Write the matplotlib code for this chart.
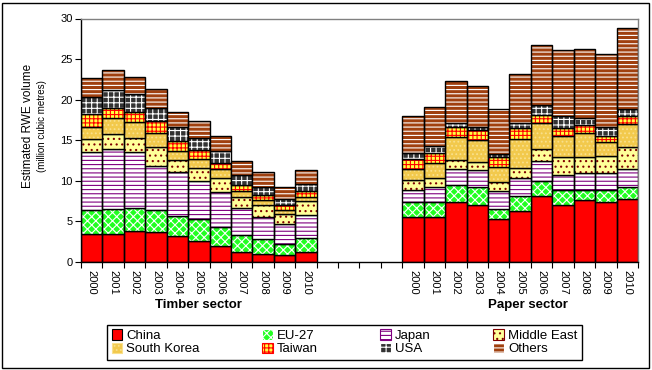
import matplotlib
matplotlib.use("Agg")
import matplotlib.pyplot as plt
import numpy as np
from matplotlib.patches import Patch, Rectangle

plt.rcParams["font.family"] = ["Liberation Sans", "DejaVu Sans"]
plt.rcParams["hatch.linewidth"] = 0.8

years = ["2000", "2001", "2002", "2003", "2004", "2005",
         "2006", "2007", "2008", "2009", "2010"]
regions = ["China", "EU-27", "Japan", "Middle East",
           "South Korea", "Taiwan", "USA", "Others"]

# million m3 RWE
timber = {
    "China":       [3.42, 3.42, 3.79, 3.66, 3.17, 2.55, 1.93, 1.19, 0.95, 0.82, 1.19],
    "EU-27":       [2.96, 3.08, 2.84, 2.72, 2.47, 2.72, 2.39, 2.10, 1.85, 1.40, 1.73],
    "Japan":       [7.16, 7.41, 6.91, 5.39, 5.39, 4.69, 4.28, 3.34, 2.76, 2.47, 2.84],
    "Middle East": [1.60, 1.85, 1.73, 2.39, 1.52, 1.60, 1.73, 1.39, 1.48, 1.24, 1.73],
    "South Korea": [1.49, 1.98, 1.97, 1.72, 1.11, 1.11, 1.15, 0.75, 0.61, 0.49, 0.53],
    "Taiwan":      [1.60, 1.19, 1.24, 1.49, 1.24, 1.12, 0.70, 0.70, 0.58, 0.58, 0.70],
    "USA":         [2.14, 2.26, 2.26, 1.60, 1.68, 1.44, 1.44, 1.23, 0.99, 0.74, 0.91],
    "Others":      [2.31, 2.47, 2.06, 2.35, 1.90, 2.14, 1.89, 1.73, 1.85, 1.48, 1.69],
}
paper = {
    "China":       [5.60, 5.60, 7.37, 7.00, 5.27, 6.34, 8.07, 7.00, 7.61, 7.37, 7.74],
    "EU-27":       [1.77, 1.77, 2.10, 2.22, 1.31, 1.81, 1.97, 1.93, 1.24, 1.48, 1.48],
    "Japan":       [1.48, 1.89, 1.97, 2.06, 2.14, 2.22, 2.39, 1.85, 2.10, 2.10, 2.26],
    "Middle East": [1.23, 1.11, 1.11, 0.98, 1.12, 1.19, 1.52, 2.14, 1.97, 2.10, 2.72],
    "South Korea": [1.36, 1.77, 2.84, 2.76, 1.89, 3.63, 3.17, 2.59, 2.96, 1.72, 2.75],
    "Taiwan":      [1.23, 1.32, 1.28, 1.24, 1.23, 1.27, 0.95, 0.95, 0.99, 0.74, 0.99],
    "USA":         [0.70, 0.86, 0.41, 0.37, 0.37, 0.62, 1.27, 1.56, 0.91, 1.12, 0.91],
    "Others":      [4.61, 4.77, 5.22, 5.06, 5.52, 6.09, 7.41, 8.11, 8.48, 9.01, 10.00],
}

# (face colour, hatch colour, hatch)
styles = {
    "China":       ("#FF0000", "black", None),
    "EU-27":       ("#22FF22", "white", "xxxx"),
    "Japan":       ("white", "#800080", "----"),
    "Middle East": ("#FFFF99", "#800000", "..."),
    "South Korea": ("#F2C94C", "#F9E08C", "...."),
    "Taiwan":      ("#FFFF40", "#FF0000", "++++"),
    "USA":         ("#333333", "white", "+++"),
    "Others":      ("#A0400F", "white", "----"),
}

gap = 4
x_timber = np.arange(len(years))
x_paper = np.arange(len(years)) + len(years) + gap
n_slots = 2 * len(years) + gap

fig = plt.figure(figsize=(6.52, 3.70), dpi=100)
ax = fig.add_axes([81 / 652, 1 - 262 / 370, 557 / 652, 243.5 / 370])

for xs, data in ((x_timber, timber), (x_paper, paper)):
    bottom = np.zeros(len(xs))
    for r in regions:
        vals = np.array(data[r])
        face, hcol, hatch = styles[r]
        ax.bar(xs, vals, bottom=bottom, width=1.0, color=face,
               edgecolor=hcol, hatch=hatch, linewidth=0)
        ax.bar(xs, vals, bottom=bottom, width=1.0, fill=False,
               edgecolor="black", linewidth=1.0)
        bottom += vals

ax.set_xlim(-0.5, n_slots - 0.5)
ax.set_ylim(0, 30)
ax.set_yticks(range(0, 31, 5))
ax.tick_params(axis="y", direction="out", length=4, labelsize=8, pad=2)

ax.set_xticks(np.arange(-0.5, n_slots, 1.0))
ax.set_xticklabels([])
ax.tick_params(axis="x", which="major", direction="out", length=4)
ax.set_xticks(np.concatenate([x_timber, x_paper]), minor=True)
ax.set_xticklabels(years + years, minor=True, rotation=-90, fontsize=8)
ax.tick_params(axis="x", which="minor", length=0, pad=6)

for s in ("left", "bottom"):
    ax.spines[s].set_color("black")
    ax.spines[s].set_linewidth(1.0)
for s in ("top", "right"):
    ax.spines[s].set_color("#808080")
    ax.spines[s].set_linewidth(1.0)

fig.text(28 / 652, 1 - 126 / 370, "Estimated RWE volume", rotation=90,
         ha="center", va="center", fontsize=8.5)
fig.text(42 / 652, 1 - 126 / 370, "(million cubic metres)", rotation=90,
         ha="center", va="center", fontsize=7)

fig.text(198 / 652, 1 - 305 / 370, "Timber sector", ha="center", va="center",
         fontsize=9.5, fontweight="bold")
fig.text(528 / 652, 1 - 305 / 370, "Paper sector", ha="center", va="center",
         fontsize=9.5, fontweight="bold")

handles = {}
for r in regions:
    face, hcol, hatch = styles[r]
    handles[r] = Patch(facecolor=face, edgecolor=hcol if hatch else "black",
                       hatch=hatch, linewidth=0.8)
order = ["China", "South Korea", "EU-27", "Taiwan",
         "Japan", "USA", "Middle East", "Others"]
leg = fig.legend([handles[r] for r in order], order, ncol=4, mode="expand",
                 loc="lower left", bbox_to_anchor=(107 / 652, 10 / 370, 475 / 652, 35 / 370),
                 fontsize=9.5, handlelength=0.8, handleheight=0.8, handletextpad=0.3,
                 labelspacing=0.05, borderpad=0.35, borderaxespad=0,
                 fancybox=False, edgecolor="black", framealpha=1)
leg.get_frame().set_linewidth(1.0)

fig.patches.append(Rectangle((2 / 652, 2 / 370), 647 / 652, 365 / 370,
                             transform=fig.transFigure, fill=False,
                             edgecolor="black", linewidth=1.0))

fig.savefig("out.png", dpi=100)
